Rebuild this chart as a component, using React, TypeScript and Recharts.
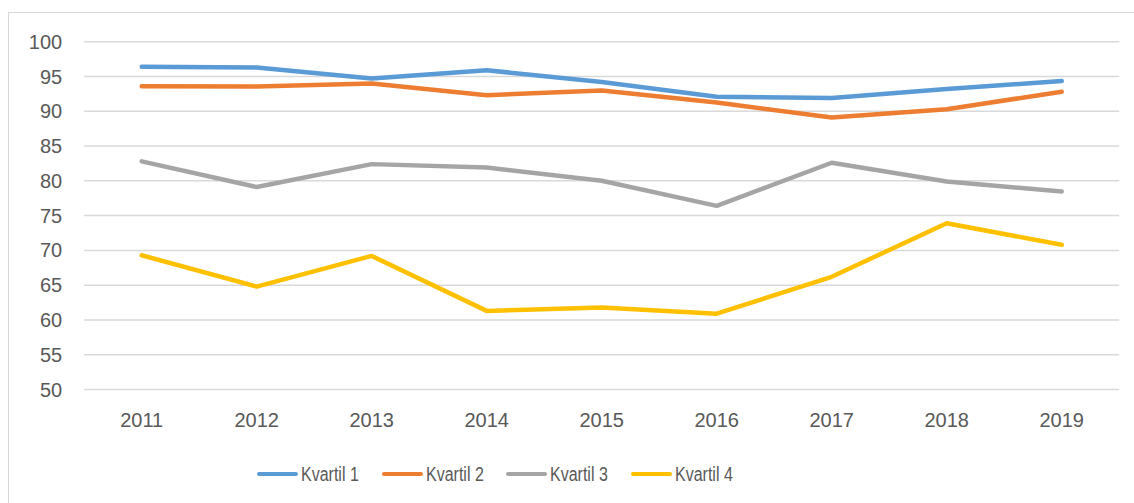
import React from "react";
import { LineChart, Line, XAxis, YAxis, CartesianGrid } from "recharts";

const years = ["2011", "2012", "2013", "2014", "2015", "2016", "2017", "2018", "2019"];
const kvartil1 = [96.4, 96.3, 94.7, 95.9, 94.2, 92.1, 91.9, 93.2, 94.35];
const kvartil2 = [93.6, 93.55, 94.0, 92.3, 93.0, 91.25, 89.1, 90.3, 92.8];
const kvartil3 = [82.8, 79.1, 82.4, 81.9, 80.0, 76.4, 82.6, 79.9, 78.45];
const kvartil4 = [69.3, 64.8, 69.2, 61.3, 61.8, 60.9, 66.2, 73.9, 70.8];
const yTicks = [50, 55, 60, 65, 70, 75, 80, 85, 90, 95, 100];

const series = [
  { key: "k1", name: "Kvartil 1", color: "#5B9BD5", values: kvartil1 },
  { key: "k2", name: "Kvartil 2", color: "#ED7D31", values: kvartil2 },
  { key: "k3", name: "Kvartil 3", color: "#A5A5A5", values: kvartil3 },
  { key: "k4", name: "Kvartil 4", color: "#FFC000", values: kvartil4 },
];

const data = years.map((y, i) => {
  const row: Record<string, string | number> = { year: y };
  series.forEach((s) => {
    row[s.key] = s.values[i];
  });
  return row;
});

const FONT = "'Liberation Sans', Arial, sans-serif";
const TEXT = "#595959";

export default function App() {
  return (
    <div style={{ position: "absolute", left: 0, top: 0, width: 1134, height: 503, background: "#fff", overflow: "hidden" }}>
      <div
        style={{
          position: "absolute",
          left: 8,
          top: 12,
          width: 1140,
          height: 500,
          borderTop: "1.5px solid #D9D9D9",
          borderLeft: "1.5px solid #D9D9D9",
        }}
      />
      <div style={{ position: "absolute", left: 0, top: 0 }}>
        <LineChart
          width={1134}
          height={503}
          data={data}
          margin={{ top: 41.7, right: 14.8, bottom: 83.5, left: 0 }}
        >
          <CartesianGrid horizontal vertical={false} stroke="#D9D9D9" strokeWidth={1.5} />
          <XAxis
            dataKey="year"
            axisLine={false}
            tickLine={false}
            tickSize={0}
            tickMargin={23.5}
            height={30}
            padding={{ left: 57.5, right: 57.5 }}
            tick={{ fill: TEXT, fontSize: 20, fontFamily: FONT }}
            interval={0}
          />
          <YAxis
            domain={[50, 100]}
            ticks={yTicks}
            width={84.2}
            axisLine={false}
            tickLine={false}
            tickSize={0}
            tickMargin={22}
            interval={0}
            tick={{ fill: TEXT, fontSize: 20, fontFamily: FONT }}
          />
          {series.map((s) => (
            <Line
              key={s.key}
              type="linear"
              dataKey={s.key}
              name={s.name}
              stroke={s.color}
              strokeWidth={4.5}
              strokeLinecap="round"
              strokeLinejoin="round"
              dot={false}
              activeDot={false}
              isAnimationActive={false}
            />
          ))}
        </LineChart>
      </div>
      {series.map((s, i) => (
        <div
          key={s.key}
          style={{
            position: "absolute",
            left: 257 + i * 124.6,
            top: 462,
            height: 24,
            display: "flex",
            alignItems: "center",
            fontFamily: FONT,
            color: TEXT,
            fontSize: 20,
            whiteSpace: "nowrap",
          }}
        >
          <div style={{ width: 41, height: 4.5, borderRadius: 3, background: s.color, marginRight: 3 }} />
          <span style={{ display: "inline-block", transform: "scaleX(0.8)", transformOrigin: "left center" }}>{s.name}</span>
        </div>
      ))}
    </div>
  );
}
